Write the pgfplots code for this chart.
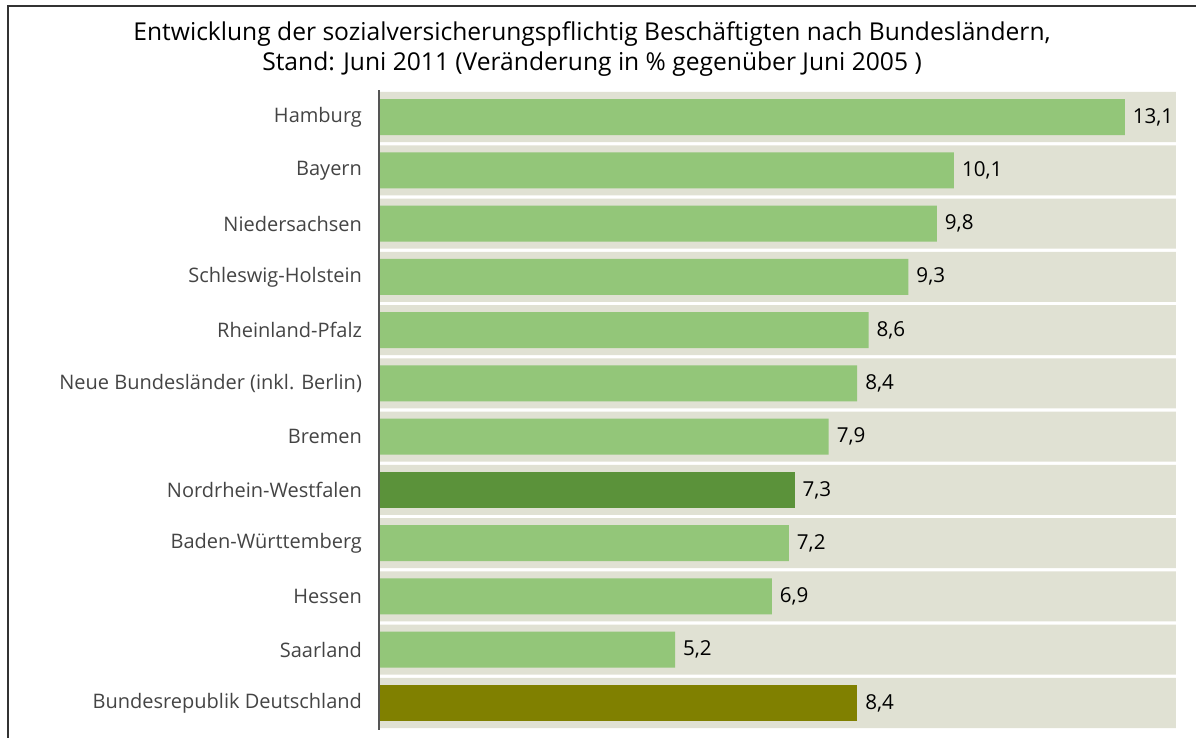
\documentclass[border=0pt]{standalone}
\usepackage{fontspec}
\setmainfont{Open Sans}
\usepackage{pgfplots}
\pgfplotsset{compat=1.18}
\definecolor{band}{HTML}{E0E1D3}
\definecolor{lgreen}{HTML}{93C679}
\definecolor{dgreen}{HTML}{5B923A}
\definecolor{oliv}{HTML}{808000}
\definecolor{labelgray}{HTML}{444444}
\definecolor{axgray}{HTML}{555555}
\definecolor{framegray}{HTML}{333333}

\begin{document}
\begin{tikzpicture}
\pgfplotsset{
  valbar/.style={fill=#1, draw=none, bar width=0.675,
    point meta=x,
    nodes near coords={\pgfmathprintnumber[fixed,fixed zerofill,precision=1,use comma,assume math mode=true]{\pgfplotspointmeta}},
    nodes near coords style={font=\fontsize{10.3}{12}\selectfont, text=black, anchor=west, xshift=0.5pt}}
}
\begin{axis}[
  at={(189.5pt,4.2pt)}, anchor=south west,
  scale only axis, width=398.5pt, height=319.6pt,
  xmin=0, xmax=14, ymin=-0.5, ymax=11.5, y dir=reverse,
  xbar, bar shift=0pt,
  axis x line=none, axis y line=left,
  y axis line style={draw=axgray, line width=1pt, -},
  axis on top=true,
  major tick length=0pt,
  ytick={0,...,11},
  yticklabels={Hamburg,Bayern,Niedersachsen,Schleswig-Holstein,Rheinland-Pfalz,Neue Bundesländer (inkl. Berlin),Bremen,Nordrhein-Westfalen,Baden-Württemberg,Hessen,Saarland,Bundesrepublik Deutschland},
  yticklabel style={font=\fontsize{10}{12}\selectfont, text=labelgray, xshift=-5pt},
  clip=false,
]
\addplot[fill=band, draw=none, bar width=0.94] coordinates {
(14,0) (14,1) (14,2) (14,3) (14,4) (14,5) (14,6) (14,7) (14,8) (14,9) (14,10) (14,11)};
\addplot[valbar=lgreen] coordinates {
(13.1,0) (10.1,1) (9.8,2) (9.3,3) (8.6,4) (8.4,5) (7.9,6) (7.2,8) (6.9,9) (5.2,10)};
\addplot[valbar=dgreen] coordinates {(7.3,7)};
\addplot[valbar=oliv] coordinates {(8.4,11)};
\end{axis}
\draw[framegray, line width=1pt] (4pt,0) -- (4pt,366pt) -- (598pt,366pt);
\node[align=center, font=\fontsize{12.3}{15}\selectfont] at (296pt,344.5pt)
  {Entwicklung der sozialversicherungspflichtig Beschäftigten nach Bundesländern,\\
   Stand: Juni 2011 (Veränderung in \% gegenüber Juni 2005 )};
\pgfresetboundingbox
\path (0,0) rectangle (598pt,369pt);
\end{tikzpicture}
\end{document}
